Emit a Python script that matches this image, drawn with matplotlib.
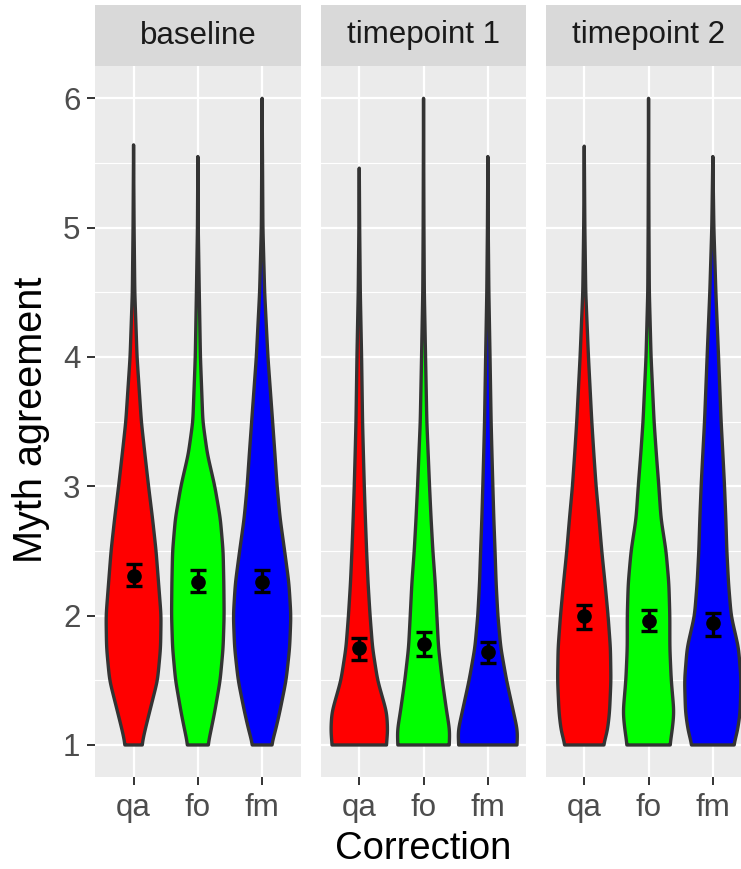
import numpy as np
import matplotlib
matplotlib.use("Agg")
import matplotlib.pyplot as plt
from matplotlib.ticker import MultipleLocator

plt.rcParams["font.family"] = ["Liberation Sans", "DejaVu Sans"]

# ----------------------------------------------------------
# Data
# ----------------------------------------------------------

timepoints = ["baseline", "timepoint 1", "timepoint 2"]
corrections = ["qa", "fo", "fm"]
fill_colours = ["#FF0000", "#00FF00", "#0000FF"]

# y levels where the violin half-widths were read
density_y = [1.0, 1.1, 1.25, 1.5, 1.75, 2.0, 2.25, 2.5, 2.75, 3.0, 3.25, 3.5, 4.0, 4.5, 5.0]

# violin half-widths (x units) per timepoint, one row per correction
baseline_width = [
    [.128, .171, .246, .373, .420, .428, .389, .350, .295, .233, .176, .121, .054, .019, .008],
    [.156, .199, .260, .347, .393, .409, .404, .393, .350, .264, .148, .078, .040, .022, .006],
    [.143, .202, .272, .373, .428, .448, .417, .350, .280, .233, .199, .163, .090, .039, .012],
]
time1_width = [
    [.420, .443, .428, .285, .207, .168, .137, .114, .095, .078, .064, .051, .036, .016, .006],
    [.397, .412, .362, .291, .233, .207, .182, .145, .117, .093, .072, .051, .031, .012, .006],
    [.451, .467, .401, .291, .202, .156, .129, .112, .093, .078, .064, .051, .034, .016, .006],
]
time2_width = [
    [.295, .358, .393, .415, .407, .370, .323, .272, .230, .184, .149, .117, .065, .023, .009],
    [.331, .365, .397, .353, .331, .331, .316, .272, .194, .160, .121, .086, .039, .012, .006],
    [.322, .381, .425, .440, .400, .285, .244, .218, .202, .182, .156, .129, .089, .047, .016],
]

# maximum response per violin
baseline_max = [5.64, 5.55, 6.0]
time1_max = [5.46, 6.0, 5.55]
time2_max = [5.63, 6.0, 5.55]

# means with error bars
baseline_mean = [2.31, 2.26, 2.26]
baseline_low = [2.23, 2.18, 2.18]
baseline_high = [2.40, 2.35, 2.35]

time1_mean = [1.75, 1.78, 1.72]
time1_low = [1.66, 1.69, 1.63]
time1_high = [1.83, 1.87, 1.80]

time2_mean = [2.00, 1.96, 1.94]
time2_low = [1.90, 1.88, 1.84]
time2_high = [2.08, 2.04, 2.02]

widths = [baseline_width, time1_width, time2_width]
maxima = [baseline_max, time1_max, time2_max]
means = [baseline_mean, time1_mean, time2_mean]
lows = [baseline_low, time1_low, time2_low]
highs = [baseline_high, time1_high, time2_high]

# ----------------------------------------------------------
# Layout (pixels of a 741 x 869 figure)
# ----------------------------------------------------------

W, H = 741, 869
panel_left = [95, 320.7, 545.7]
panel_w = 205.7
panel_top = 66
panel_bottom = 777.3
strip_top = 5

fig = plt.figure(figsize=(W / 100, H / 100), dpi=100)


def smooth(values, sigma=4):
    k = np.arange(-3 * sigma, 3 * sigma + 1)
    kernel = np.exp(-0.5 * (k / sigma) ** 2)
    kernel /= kernel.sum()
    padded = np.pad(values, len(k) // 2, mode="edge")
    return np.convolve(padded, kernel, mode="valid")


for p, label in enumerate(timepoints):

    ax = fig.add_axes([
        panel_left[p] / W,
        (H - panel_bottom) / H,
        panel_w / W,
        (panel_bottom - panel_top) / H,
    ])
    ax.set_facecolor("#EBEBEB")
    ax.set_xlim(0.4, 3.6)
    ax.set_ylim(0.75, 6.25)
    for s in ax.spines.values():
        s.set_visible(False)

    ax.set_xticks(range(1, 4))
    ax.set_xticklabels(corrections)
    ax.set_yticks(range(1, 7))
    ax.yaxis.set_minor_locator(MultipleLocator(0.5))
    ax.grid(which="major", color="white", lw=1.6)
    ax.grid(which="minor", axis="y", color="white", lw=0.8)
    ax.set_axisbelow(True)

    ax.tick_params(axis="both", which="major", length=5.5, width=1.4,
                   color="#333333", labelsize=22.5, labelcolor="#4D4D4D")
    ax.tick_params(axis="x", which="major", pad=5.5)
    ax.tick_params(axis="y", which="major", pad=5)
    ax.tick_params(axis="y", which="minor", length=0)
    if p > 0:
        ax.tick_params(axis="y", which="major", length=0, labelleft=False)

    for i in range(3):
        top = maxima[p][i]
        ys = np.linspace(1.0, top, 400)
        w = np.interp(ys, density_y + [top], widths[p][i] + [0.0])
        w = smooth(w)
        w[-1] = 0.0
        xs = np.concatenate([i + 1 - w, (i + 1 + w)[::-1]])
        yy = np.concatenate([ys, ys[::-1]])
        ax.fill(xs, yy, facecolor=fill_colours[i], edgecolor="#333333",
                lw=2.4, joinstyle="round", zorder=2)

    x = np.arange(1, 4)
    m = np.array(means[p])
    err = [m - np.array(lows[p]), np.array(highs[p]) - m]
    ax.errorbar(x, m, yerr=err, fmt="o", color="black", ms=9.5,
                elinewidth=2.4, capsize=5.6, capthick=2.4, zorder=3)

    strip = fig.add_axes([
        panel_left[p] / W,
        (H - panel_top) / H,
        panel_w / W,
        (panel_top - strip_top) / H,
    ])
    strip.set_facecolor("#D9D9D9")
    strip.set_xticks([])
    strip.set_yticks([])
    for s in strip.spines.values():
        s.set_visible(False)
    strip.text(0.5, 0.5, label, ha="center", va="center",
               fontsize=22.5, color="#1A1A1A", transform=strip.transAxes)

fig.text(31 / W, 1 - 420 / H, "Myth agreement", rotation=90,
         ha="center", va="center", fontsize=28.5, color="black")
fig.text(423 / W, 1 - 859 / H, "Correction",
         ha="center", va="baseline", fontsize=27.5, color="black")

fig.savefig("out.png", dpi=100)
